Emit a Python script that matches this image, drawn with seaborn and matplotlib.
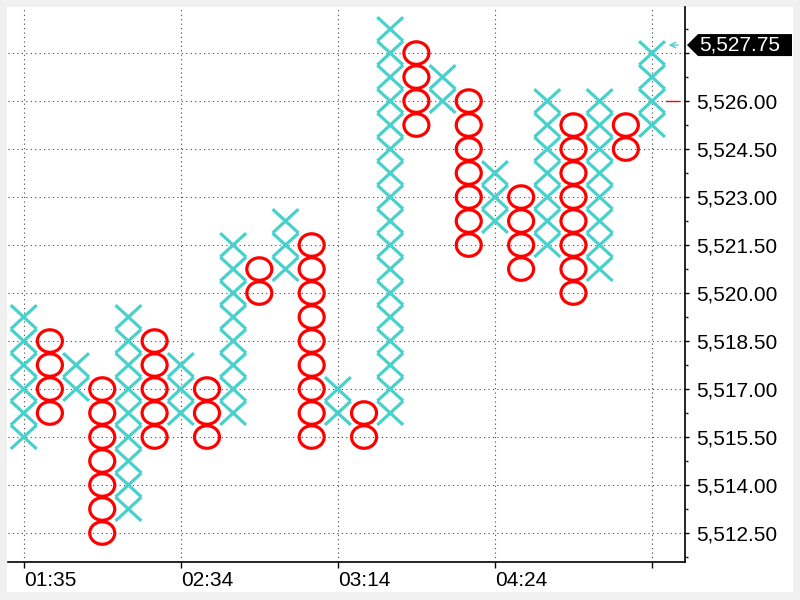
import numpy as np
import pandas as pd
import matplotlib
matplotlib.use("Agg")
import matplotlib.pyplot as plt
from matplotlib.path import Path
from matplotlib.transforms import Affine2D
from matplotlib.patches import Polygon, Rectangle
from matplotlib.ticker import FuncFormatter, MultipleLocator
import seaborn as sns

# ---- data (point & figure columns, box size 0.75) ----
box_size = 0.75
col_types = ['X', 'O', 'X', 'O', 'X', 'O', 'X', 'O', 'X', 'O', 'X', 'O', 'X',
             'O', 'X', 'O', 'X', 'O', 'X', 'O', 'X', 'O', 'X', 'O', 'X']
col_low = [5515.50, 5516.25, 5517.00, 5512.50, 5513.25, 5515.50, 5516.25, 5515.50,
           5516.25, 5520.00, 5520.75, 5515.50, 5516.25, 5515.50, 5516.25, 5525.25,
           5526.00, 5521.50, 5522.25, 5520.75, 5521.50, 5520.00, 5520.75, 5524.50,
           5525.25]
col_high = [5519.25, 5518.50, 5517.75, 5517.00, 5519.25, 5518.50, 5517.75, 5517.00,
            5521.50, 5520.75, 5522.25, 5521.50, 5517.00, 5516.25, 5528.25, 5527.50,
            5526.75, 5526.00, 5523.75, 5523.00, 5526.00, 5525.25, 5526.00, 5525.25,
            5527.50]
time_ticks = [0, 6, 12, 18, 24]
time_labels = ['01:35', '02:34', '03:14', '04:24', '']
last_price = 5527.75
reversal_level = 5526.00

rows = []
for i, (t, lo, hi) in enumerate(zip(col_types, col_low, col_high)):
    n = int(round((hi - lo) / box_size)) + 1
    for k in range(n):
        rows.append({'col': i, 'price': lo + k * box_size, 'type': t})
df = pd.DataFrame(rows)

# ---- style ----
sns.set_style("white")
plt.rcParams['font.family'] = ['Liberation Sans', 'DejaVu Sans']

X_COLOR = '#48D1CC'
O_COLOR = '#FF0000'

fig = plt.figure(figsize=(8, 6), dpi=100)
fig.patch.set_facecolor('#F0F0F0')
fig.patches.append(Rectangle((7 / 800, 8 / 600), 786 / 800, 585 / 600,
                             transform=fig.transFigure, facecolor='white',
                             edgecolor='none', zorder=-10))

ax = fig.add_axes([8 / 800, 38 / 600, 677 / 800, 555 / 600])
ax.set_facecolor('white')
ax.set_zorder(1)

x_path = Path([(-1, -0.92), (1, 0.92), (-1, 0.92), (1, -0.92)],
              [Path.MOVETO, Path.LINETO, Path.MOVETO, Path.LINETO])
o_path = Path.unit_circle().transformed(Affine2D().scale(1, 0.9))

dx = df[df['type'] == 'X']
do = df[df['type'] == 'O']
sns.scatterplot(data=dx, x='col', y='price', marker=x_path, s=18.6 ** 2,
                ax=ax, legend=False, zorder=3)
cx = ax.collections[-1]
cx.set_facecolor('none'); cx.set_edgecolor(X_COLOR); cx.set_linewidth(2.3)
sns.scatterplot(data=do, x='col', y='price', marker=o_path, s=18.0 ** 2,
                ax=ax, legend=False, zorder=3)
co = ax.collections[-1]
co.set_facecolor('none'); co.set_edgecolor(O_COLOR); co.set_linewidth(2.3)

# ---- axes ----
ax.set_xlim(-0.6, 25.26)
ax.set_ylim(5511.594, 5528.94)
ax.set_xlabel('')
ax.set_ylabel('')

ax.yaxis.tick_right()
ax.yaxis.set_major_locator(MultipleLocator(1.5))
ax.yaxis.set_minor_locator(MultipleLocator(0.75))
ax.yaxis.set_major_formatter(FuncFormatter(
    lambda v, p: f'{v:,.2f}' if v < 5527.0 else ''))
ax.set_xticks(time_ticks)
ax.set_xticklabels(time_labels)
for lab in ax.get_xticklabels():
    lab.set_ha('left')

ax.tick_params(axis='y', which='major', direction='out', length=3.2, width=1,
               pad=5, labelsize=15, colors='black', right=True, left=False)
ax.tick_params(axis='y', which='minor', direction='out', length=2, width=1,
               right=True, left=False)
ax.tick_params(axis='x', which='major', direction='out', length=4.5, width=1,
               pad=2, labelsize=15, colors='black', bottom=True)

ax.grid(True, which='major', axis='both', color='#444444',
        linestyle=(0, (1, 3)), linewidth=0.8)
ax.set_axisbelow(True)
for s in ['left', 'top']:
    ax.spines[s].set_visible(False)
for s in ['right', 'bottom']:
    ax.spines[s].set_visible(True)
    ax.spines[s].set_color('black')
    ax.spines[s].set_linewidth(1.2)

# last price arrow and reversal dash
ax.annotate('', xy=(24.53, last_price), xytext=(25.1, last_price),
            arrowprops=dict(arrowstyle='->,head_length=0.4,head_width=0.2',
                            color=X_COLOR, lw=1), annotation_clip=False)
ax.plot([24.55, 25.02], [reversal_level, reversal_level], color=O_COLOR, lw=1,
        clip_on=False)

# last price label box
y_lp = ax.transData.transform((0, last_price))[1] / 600
fig.patches.append(Polygon([(687 / 800, y_lp), (698 / 800, y_lp + 11 / 600),
                            (792 / 800, y_lp + 11 / 600), (792 / 800, y_lp - 11 / 600),
                            (698 / 800, y_lp - 11 / 600)],
                           closed=True, transform=fig.transFigure,
                           facecolor='black', edgecolor='none', zorder=5))
fig.text(699 / 800, y_lp, f'{last_price:,.2f}', color='white', fontsize=15,
         va='center', ha='left', zorder=6)

fig.savefig('out.png', dpi=100, facecolor=fig.get_facecolor())
